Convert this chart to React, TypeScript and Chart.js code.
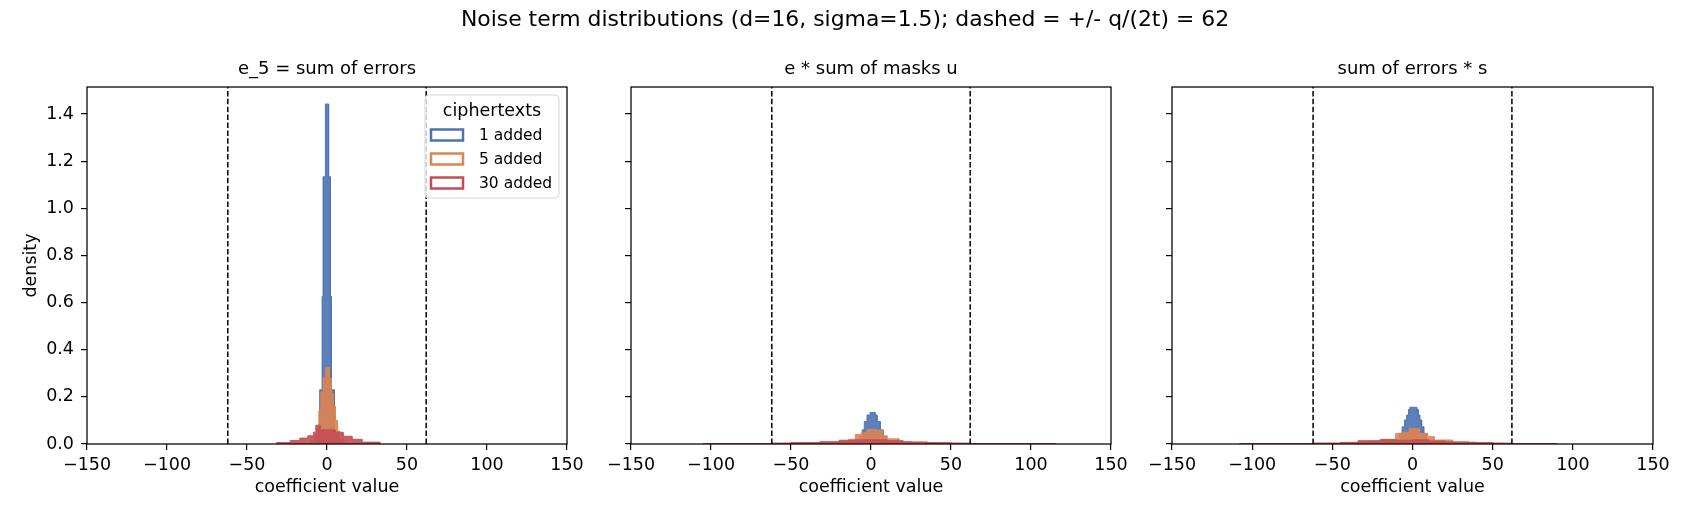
import React, { useEffect, useRef } from "react";
import { Chart, registerables } from "chart.js";

Chart.register(...registerables);

// ---------------- data ----------------
const SUPTITLE = "Noise term distributions (d=16, sigma=1.5); dashed = +/- q/(2t) = 62";
const PANEL_TITLES = ["e_5 = sum of errors", "e * sum of masks u", "sum of errors * s"];
const X_LABEL = "coefficient value";
const Y_LABEL = "density";
const LEGEND_TITLE = "ciphertexts";
const SERIES_LABELS = ["1 added", "5 added", "30 added"];
const SERIES_COLORS = ["#4C72B0", "#DD8452", "#C44E52"];
const THRESHOLD = 62;
const X_MIN = -150;
const X_MAX = 150;
const X_STEP = 50;
const Y_MAX = 1.515;
const Y_STEP = 0.2;

// panel 1: e_5 = sum of errors
const p1BlueEdges = [-6, -4.6, -3.1, -2.5, -1, 1, 2.1, 2.7, 4.6, 6];
const p1BlueDens = [0.04, 0.23, 0.625, 1.134, 1.443, 1.134, 0.625, 0.23, 0.04];
const p1OrangeEdges = [-10.6, -8, -6.5, -5.1, -3.9, -2.5, -1.0, 1.4, 2.6, 3.9, 5.2, 6.5, 7.7, 10.2, 12];
const p1OrangeDens = [0.012, 0.035, 0.07, 0.14, 0.22, 0.28, 0.325, 0.28, 0.215, 0.16, 0.1, 0.055, 0.02, 0.008];
const p1RedEdges = [-31.5, -23, -17, -12, -8.5, -7, -4.4, 5, 10, 15.6, 21.8, 33];
const p1RedDens = [0.006, 0.015, 0.025, 0.035, 0.05, 0.08, 0.06, 0.05, 0.033, 0.02, 0.008];

// panel 2: e * sum of masks u
const p2BlueEdges = [-10, -7, -5.5, -4.2, -2.5, -0.6, 2.5, 3.75, 5.8, 7.5, 9, 12];
const p2BlueDens = [0.01, 0.03, 0.06, 0.095, 0.123, 0.134, 0.123, 0.095, 0.06, 0.03, 0.01];
const p2OrangeEdges = [-55, -35, -20, -14, -9.8, -6, -2.5, 0, 1, 3.5, 4.5, 7, 10, 17.5, 25, 40, 55];
const p2OrangeDens = [0.003, 0.006, 0.012, 0.02, 0.04, 0.048, 0.062, 0.05, 0.062, 0.05, 0.06, 0.035, 0.022, 0.01, 0.005, 0.003];
const p2RedEdges = [-105, -62, -50, -32, -20, -10, 0, 10, 20, 35, 50, 62, 115];
const p2RedDens = [0.002, 0.004, 0.006, 0.01, 0.016, 0.018, 0.018, 0.014, 0.009, 0.006, 0.004, 0.002];

// panel 3: sum of errors * s
const p3BlueEdges = [-12, -8, -6.5, -5, -3.7, -2.5, -1.6, 2.6, 3.5, 4.5, 5.7, 7, 8.5, 12];
const p3BlueDens = [0.01, 0.045, 0.073, 0.102, 0.123, 0.147, 0.156, 0.147, 0.123, 0.102, 0.073, 0.045, 0.01];
const p3OrangeEdges = [-62, -40, -28, -20, -10.5, -6, -2.1, 4.2, 9.4, 13.5, 25, 40, 57];
const p3OrangeDens = [0.003, 0.006, 0.012, 0.02, 0.045, 0.05, 0.066, 0.045, 0.031, 0.017, 0.008, 0.003];
const p3RedEdges = [-108, -62, -45, -34, -20, -10, 0, 10, 20, 35, 50, 62, 90];
const p3RedDens = [0.002, 0.004, 0.007, 0.014, 0.018, 0.016, 0.018, 0.013, 0.009, 0.006, 0.004, 0.002];

const PANELS = [
  { edges: [p1BlueEdges, p1OrangeEdges, p1RedEdges], dens: [p1BlueDens, p1OrangeDens, p1RedDens] },
  { edges: [p2BlueEdges, p2OrangeEdges, p2RedEdges], dens: [p2BlueDens, p2OrangeDens, p2RedDens] },
  { edges: [p3BlueEdges, p3OrangeEdges, p3RedEdges], dens: [p3BlueDens, p3OrangeDens, p3RedDens] },
];

// ---------------- layout ----------------
const W = 1690;
const H = 520;
const AREA_LEFT = [87, 631, 1172];
const AREA_RIGHT = [567, 1111, 1653];
const AREA_TOP = 87;
const AREA_BOTTOM = 444;
const Y_AXIS_W = 66;
const X_AXIS_H = 54;
const FONT_FAMILY = "'DejaVu Sans', 'Liberation Sans', sans-serif";
const TICK_SIZE = 17.5;
const LABEL_SIZE = 17.5;
const LEGEND_SIZE = 15.5;
const LEGEND_TITLE_SIZE = 17.5;
const TITLE_SIZE = 18;
const SUPTITLE_SIZE = 21.9;

function rgba(hex: string, a: number) {
  const n = parseInt(hex.slice(1), 16);
  return `rgba(${(n >> 16) & 255},${(n >> 8) & 255},${n & 255},${a})`;
}

function stepPoints(edges: number[], dens: number[]) {
  const pts = [{ x: edges[0], y: 0 }];
  for (let i = 0; i < dens.length; i++) {
    pts.push({ x: edges[i], y: dens[i] });
    pts.push({ x: edges[i + 1], y: dens[i] });
  }
  pts.push({ x: edges[edges.length - 1], y: 0 });
  return pts;
}

function fmtX(v: number) {
  return v < 0 ? "\u2212" + Math.abs(v) : String(v);
}

function makeConfig(idx: number): any {
  const panel = PANELS[idx];
  const datasets: any[] = [];
  for (let s = 0; s < 3; s++) {
    datasets.push({
      label: SERIES_LABELS[s],
      data: stepPoints(panel.edges[s], panel.dens[s]),
      borderColor: rgba(SERIES_COLORS[s], 0.9),
      backgroundColor: rgba(SERIES_COLORS[s], 0.9),
      borderWidth: 1,
      pointRadius: 0,
      fill: "origin",
      tension: 0,
      order: 3 - s,
    });
  }
  for (const sgn of [-1, 1]) {
    datasets.push({
      label: "threshold",
      data: [
        { x: sgn * THRESHOLD, y: 0 },
        { x: sgn * THRESHOLD, y: Y_MAX },
      ],
      borderColor: "#000",
      borderWidth: 1.5,
      borderDash: [5.5, 2.4],
      pointRadius: 0,
      fill: false,
      order: 0,
    });
  }

  const tickFont = { family: FONT_FAMILY, size: TICK_SIZE };
  const labelFont = { family: FONT_FAMILY, size: LABEL_SIZE };
  const gridOpts = {
    drawOnChartArea: false,
    drawTicks: true,
    tickLength: 6,
    color: "#000",
    lineWidth: 1.2,
  };

  const textPlugin = {
    id: "panelText" + idx,
    afterDatasetsDraw(chart: any) {
      const { ctx, chartArea } = chart;
      ctx.save();
      ctx.strokeStyle = "#000";
      ctx.lineWidth = 1.25;
      ctx.strokeRect(chartArea.left, chartArea.top, chartArea.right - chartArea.left, chartArea.bottom - chartArea.top);
      ctx.restore();
    },
    afterDraw(chart: any) {
      const { ctx, chartArea } = chart;
      ctx.save();
      ctx.fillStyle = "#000";
      ctx.textAlign = "center";
      ctx.textBaseline = "middle";
      ctx.font = `${TITLE_SIZE}px ${FONT_FAMILY}`;
      ctx.fillText(PANEL_TITLES[idx], (chartArea.left + chartArea.right) / 2, 69);
      if (idx === 1) {
        ctx.font = `${SUPTITLE_SIZE}px ${FONT_FAMILY}`;
        ctx.fillText(SUPTITLE, W / 2, 20);
      }
      if (idx === 0) {
        // legend
        const bx = 425, by = 95, bw = 134, bh = 103, r = 4;
        ctx.beginPath();
        ctx.moveTo(bx + r, by);
        ctx.lineTo(bx + bw - r, by);
        ctx.quadraticCurveTo(bx + bw, by, bx + bw, by + r);
        ctx.lineTo(bx + bw, by + bh - r);
        ctx.quadraticCurveTo(bx + bw, by + bh, bx + bw - r, by + bh);
        ctx.lineTo(bx + r, by + bh);
        ctx.quadraticCurveTo(bx, by + bh, bx, by + bh - r);
        ctx.lineTo(bx, by + r);
        ctx.quadraticCurveTo(bx, by, bx + r, by);
        ctx.closePath();
        ctx.fillStyle = "rgba(255,255,255,0.8)";
        ctx.fill();
        ctx.strokeStyle = "#d6d6d6";
        ctx.lineWidth = 1;
        ctx.stroke();
        ctx.fillStyle = "#000";
        ctx.font = `${LEGEND_TITLE_SIZE}px ${FONT_FAMILY}`;
        ctx.textAlign = "center";
        ctx.fillText(LEGEND_TITLE, 492, 111);
        ctx.font = `${LEGEND_SIZE}px ${FONT_FAMILY}`;
        ctx.textAlign = "left";
        for (let s = 0; s < 3; s++) {
          const cy = 135 + s * 24;
          ctx.strokeStyle = SERIES_COLORS[s];
          ctx.lineWidth = 2.5;
          ctx.fillStyle = "#fff";
          ctx.fillRect(431, cy - 5.5, 32, 11);
          ctx.strokeRect(431, cy - 5.5, 32, 11);
          ctx.fillStyle = "#000";
          ctx.fillText(SERIES_LABELS[s], 479, cy + 1);
        }
      }
      ctx.restore();
    },
  };

  return {
    type: "line",
    data: { datasets },
    plugins: [textPlugin],
    options: {
      animation: false,
      responsive: false,
      devicePixelRatio: 1,
      events: [],
      layout: {
        padding: {
          left: AREA_LEFT[idx] - Y_AXIS_W,
          right: W - AREA_RIGHT[idx],
          top: AREA_TOP,
          bottom: H - AREA_BOTTOM - X_AXIS_H,
        },
      },
      plugins: { legend: { display: false }, tooltip: { enabled: false }, title: { display: false } },
      scales: {
        x: {
          type: "linear",
          min: X_MIN,
          max: X_MAX,
          afterFit: (s: any) => {
            s.height = X_AXIS_H;
          },
          ticks: {
            stepSize: X_STEP,
            autoSkip: false,
            maxRotation: 0,
            padding: 5,
            color: "#000",
            font: tickFont,
            callback: (v: number) => fmtX(v),
          },
          grid: gridOpts,
          border: { display: false },
          title: { display: true, text: X_LABEL, color: "#000", font: labelFont, padding: 0 },
        },
        y: {
          type: "linear",
          min: 0,
          max: Y_MAX,
          afterFit: (s: any) => {
            s.width = Y_AXIS_W;
          },
          ticks: {
            stepSize: Y_STEP,
            includeBounds: false,
            padding: 7,
            color: "#000",
            font: tickFont,
            callback: (v: number) => (idx === 0 ? v.toFixed(1) : ""),
          },
          grid: gridOpts,
          border: { display: false },
          title: { display: idx === 0, text: Y_LABEL, color: "#000", font: labelFont, padding: 0 },
        },
      },
    },
  };
}

function Panel({ idx }: { idx: number }) {
  const ref = useRef<HTMLCanvasElement | null>(null);
  useEffect(() => {
    if (!ref.current) return;
    const chart = new Chart(ref.current, makeConfig(idx));
    return () => chart.destroy();
  }, [idx]);
  return (
    <canvas
      ref={ref}
      width={W}
      height={H}
      style={{ position: "absolute", left: 0, top: 0, width: W, height: H }}
    />
  );
}

export default function App() {
  return (
    <div style={{ position: "absolute", left: 0, top: 0, width: W, height: H, background: "#fff" }}>
      <Panel idx={0} />
      <Panel idx={1} />
      <Panel idx={2} />
    </div>
  );
}
